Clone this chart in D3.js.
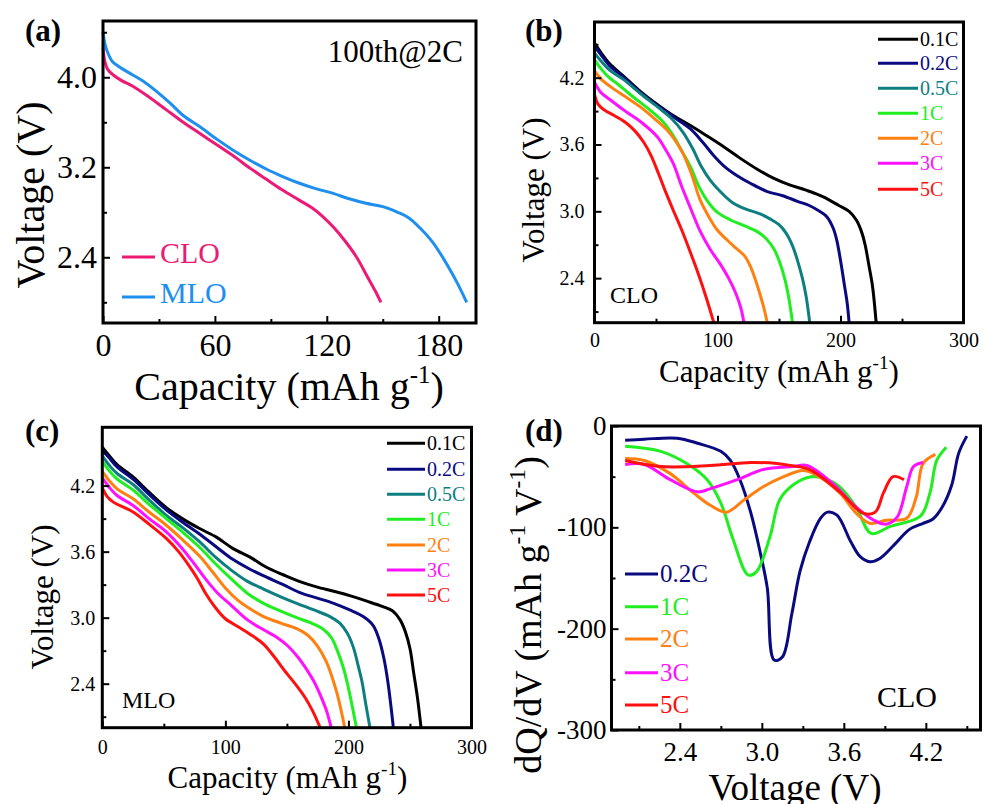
<!DOCTYPE html>
<html>
<head>
<meta charset="utf-8">
<script src="https://cdn.jsdelivr.net/npm/d3@7"></script>
<style>
  body { margin: 0; background: #fff; }
  svg text { font-family: "Liberation Serif", "Times New Roman", serif !important; }
</style>
</head>
<body>
<div id="chart"></div>
<script>
// ---- data ----
// (a) 100th cycle at 2C: [capacity mAh/g, voltage V]
const clo100 = [[0,4.27],[1,4.14],[2.5,4.07],[5.5,4.02],[10,3.97],[16,3.92],[25,3.82],[34,3.71],[43,3.60],[52,3.50],[61,3.40],[70,3.30],[79,3.19],[87,3.10],[96,3.00],[105,2.91],[112,2.84],[118,2.76],[124,2.66],[130,2.54],[136,2.40],[142,2.22],[146,2.10],[149,2.0]];
const mlo100 = [[0,4.40],[1,4.30],[2.5,4.22],[5,4.14],[8,4.10],[16,4.02],[22,3.96],[29,3.87],[36,3.77],[43,3.66],[52,3.56],[61,3.45],[70,3.35],[79,3.26],[88,3.18],[96,3.12],[105,3.06],[114,3.01],[123,2.97],[132,2.92],[141,2.88],[150,2.85],[158,2.80],[164,2.75],[170,2.66],[176,2.55],[181,2.43],[185,2.32],[190,2.17],[195,2.0]];

const rates = ["0.1C", "0.2C", "0.5C", "1C", "2C", "3C", "5C"];

// (b) CLO rate capability
const cloRate = [
  [[0,4.51],[5,4.43],[12,4.33],[24,4.21],[37,4.08],[51,3.96],[64,3.86],[78,3.77],[91,3.68],[105,3.58],[118,3.48],[132,3.38],[145,3.30],[158,3.24],[172,3.19],[186,3.13],[199,3.05],[207,3.00],[213,2.92],[217,2.82],[220,2.70],[223,2.52],[226,2.33],[229,2.0]],
  [[0,4.48],[5,4.41],[12,4.31],[24,4.20],[37,4.07],[51,3.95],[64,3.85],[78,3.74],[88,3.62],[97,3.50],[106,3.40],[116,3.32],[127,3.25],[140,3.18],[153,3.14],[165,3.09],[175,3.05],[183,3.00],[189,2.95],[194,2.85],[197,2.74],[200,2.56],[203,2.35],[205.5,2.17],[207,2.0]],
  [[0,4.42],[6,4.34],[12,4.27],[24,4.18],[37,4.06],[51,3.94],[62,3.84],[72,3.71],[80,3.56],[87,3.40],[94,3.28],[102,3.18],[112,3.08],[123,3.02],[134,2.98],[143,2.93],[150,2.88],[156,2.80],[161,2.69],[165,2.56],[169,2.40],[172,2.24],[175,2.0]],
  [[0,4.36],[6,4.27],[12,4.20],[18,4.15],[30,4.04],[45,3.91],[56,3.80],[64,3.68],[71,3.54],[78,3.40],[85,3.22],[92,3.09],[100,2.99],[111,2.92],[122,2.87],[132,2.82],[140,2.75],[146,2.66],[151,2.53],[155,2.38],[158,2.22],[161,2.0]],
  [[0,4.26],[6,4.18],[13,4.12],[25,4.03],[37,3.94],[48,3.84],[59,3.73],[66,3.63],[72,3.52],[79,3.33],[86,3.10],[93,2.95],[100,2.83],[108,2.74],[115,2.67],[122,2.60],[127,2.50],[131,2.38],[135,2.24],[138,2.12],[140.5,2.0]],
  [[0,4.16],[5,4.07],[13,4.00],[25,3.90],[38,3.80],[51,3.67],[58,3.55],[64,3.43],[71,3.22],[78,3.03],[86,2.82],[94,2.66],[102,2.53],[109,2.40],[115,2.26],[119,2.13],[121.5,2.0]],
  [[0,4.05],[3,3.96],[8,3.91],[16,3.86],[25,3.80],[33,3.72],[40,3.62],[46,3.50],[52,3.34],[58,3.17],[64,3.01],[71,2.83],[78,2.63],[85,2.42],[91,2.22],[97,2.0]]
];

// (c) MLO rate capability
const mloRate = [
  [[0,4.55],[5,4.48],[12,4.39],[25,4.28],[38,4.14],[52,4.00],[65,3.90],[79,3.81],[93,3.73],[106,3.63],[120,3.55],[133,3.46],[147,3.39],[160,3.33],[174,3.28],[188,3.24],[201,3.20],[215,3.15],[228,3.10],[236,3.06],[242,2.98],[246,2.88],[250,2.72],[253,2.50],[256,2.28],[259,2.0]],
  [[0,4.52],[5,4.46],[12,4.37],[25,4.26],[38,4.12],[52,3.98],[65,3.87],[79,3.76],[93,3.64],[106,3.53],[120,3.44],[133,3.37],[147,3.30],[160,3.23],[174,3.18],[188,3.13],[201,3.07],[212,3.01],[220,2.93],[225,2.80],[229,2.62],[232,2.42],[234.5,2.20],[236.5,2.0]],
  [[0,4.47],[6,4.38],[12,4.31],[25,4.21],[38,4.07],[52,3.93],[65,3.82],[79,3.69],[92,3.55],[105,3.43],[118,3.33],[131,3.26],[145,3.19],[158,3.13],[172,3.07],[185,3.01],[193,2.95],[199,2.86],[204,2.73],[208,2.56],[211,2.42],[214,2.22],[217.5,2.0]],
  [[0,4.42],[6,4.33],[12,4.26],[25,4.16],[38,4.03],[52,3.90],[65,3.78],[79,3.64],[92,3.49],[105,3.35],[118,3.22],[131,3.13],[145,3.06],[158,3.00],[170,2.95],[179,2.90],[186,2.82],[191,2.70],[196,2.54],[200,2.36],[203,2.20],[206.5,2.0]],
  [[0,4.33],[6,4.24],[12,4.17],[25,4.08],[38,3.96],[52,3.84],[65,3.71],[79,3.56],[90,3.41],[100,3.27],[110,3.16],[120,3.08],[131,3.01],[145,2.95],[158,2.90],[167,2.84],[175,2.74],[182,2.60],[187,2.45],[191,2.30],[194,2.16],[197,2.0]],
  [[0,4.27],[6,4.18],[12,4.11],[25,4.02],[38,3.90],[52,3.78],[64,3.64],[74,3.50],[84,3.35],[94,3.22],[105,3.11],[118,2.98],[131,2.89],[142,2.82],[151,2.74],[159,2.64],[166,2.53],[172,2.42],[177,2.30],[182,2.16],[186,2.0]],
  [[0,4.18],[4,4.10],[9,4.05],[18,4.00],[25,3.96],[38,3.85],[52,3.72],[62,3.60],[70,3.48],[77,3.36],[84,3.22],[92,3.09],[100,2.99],[110,2.92],[120,2.85],[131,2.76],[140,2.64],[148,2.52],[158,2.38],[165,2.27],[171,2.15],[177,2.0]]
];

// (d) CLO dQ/dV: [voltage V, dQ/dV]
const dqdvRates = ["0.2C", "1C", "2C", "3C", "5C"];
const dqdv = [
  [[2.00,-14],[2.14,-13],[2.38,-12],[2.53,-17],[2.70,-25],[2.77,-34],[2.84,-53],[2.92,-86],[2.99,-126],[3.04,-160],[3.09,-231],[3.15,-228],[3.22,-185],[3.28,-143],[3.35,-114],[3.43,-91],[3.48,-85],[3.55,-88],[3.65,-114],[3.72,-129],[3.79,-134],[3.86,-131],[3.97,-117],[4.08,-102],[4.18,-96],[4.25,-92],[4.32,-80],[4.39,-58],[4.44,-27],[4.50,-10]],
  [[2.00,-20],[2.26,-25],[2.45,-37],[2.60,-53],[2.70,-76],[2.79,-112],[2.90,-147],[2.96,-144],[3.06,-109],[3.13,-73],[3.23,-58],[3.36,-50],[3.46,-52],[3.57,-60],[3.69,-80],[3.80,-106],[3.94,-99],[4.16,-89],[4.23,-66],[4.28,-34],[4.35,-21]],
  [[2.00,-32],[2.14,-34],[2.33,-47],[2.50,-66],[2.62,-78],[2.74,-85],[2.87,-73],[3.01,-60],[3.16,-50],[3.30,-44],[3.38,-47],[3.57,-66],[3.69,-86],[3.79,-96],[3.91,-93],[4.06,-91],[4.13,-70],[4.18,-37],[4.27,-28]],
  [[2.00,-38],[2.14,-38],[2.33,-53],[2.53,-65],[2.62,-62],[2.82,-53],[3.01,-43],[3.23,-40],[3.33,-39],[3.52,-57],[3.69,-80],[3.82,-93],[3.91,-97],[3.99,-90],[4.06,-60],[4.11,-40],[4.18,-36]],
  [[2.00,-34],[2.26,-40],[2.62,-39],[2.92,-36],[3.11,-37],[3.21,-39],[3.35,-43],[3.57,-65],[3.74,-86],[3.83,-85],[3.89,-66],[3.96,-50],[4.04,-53]]
];

// ---- styles ----
const serif = '"Liberation Serif", "Times New Roman", serif';
const rateColors = ["#000000", "#0a0a80", "#0e7f80", "#20ee20", "#ff8010", "#ff10ff", "#ff1010"];
const dqdvColors = ["#0a0a80", "#20ee20", "#ff8010", "#ff10ff", "#ff1010"];
const cloColor = "#ec1a75";
const mloColor = "#1e8fef";

const svg = d3.select("#chart")
    .append("svg")
    .attr("width", 984)
    .attr("height", 804)
    .style("font-family", serif);

// one framed panel with inward ticks
function drawPanel(p) {
    const x = d3.scaleLinear().domain(p.xDomain).range([p.l, p.r]);
    const y = d3.scaleLinear().domain(p.yDomain).range([p.b, p.t]);
    const g = svg.append("g");

    const line = d3.line()
        .x(d => x(d[0]))
        .y(d => y(d[1]))
        .curve(d3.curveCatmullRom.alpha(0.5));

    p.series.forEach((s, i) => {
        g.append("path")
            .datum(s)
            .attr("d", line)
            .attr("fill", "none")
            .attr("stroke", p.colors[i])
            .attr("stroke-width", 3)
            .attr("stroke-linejoin", "round");
    });

    function axis(gen, tr) {
        const a = g.append("g").attr("transform", tr).call(gen);
        a.select(".domain").remove();
        a.attr("font-family", serif).attr("font-size", p.tickFont);
        a.selectAll("line").attr("stroke", "#000").attr("stroke-width", 2);
        a.selectAll("text").attr("fill", "#000");
    }
    axis(d3.axisBottom(x).tickValues(p.xMajor).tickSize(-7).tickPadding(p.padX).tickFormat(p.xFmt), `translate(0,${p.b})`);
    axis(d3.axisBottom(x).tickValues(p.xMinor).tickSize(-4).tickFormat(""), `translate(0,${p.b})`);
    axis(d3.axisLeft(y).tickValues(p.yMajor).tickSize(-7).tickPadding(p.padY).tickFormat(p.yFmt), `translate(${p.l},0)`);
    axis(d3.axisLeft(y).tickValues(p.yMinor).tickSize(-4).tickFormat(""), `translate(${p.l},0)`);

    // frame
    g.append("rect")
        .attr("x", p.l).attr("y", p.t)
        .attr("width", p.r - p.l).attr("height", p.b - p.t)
        .attr("fill", "none")
        .attr("stroke", "#000")
        .attr("stroke-width", 3);
    return { x, y, g };
}

function label(x, y, s, size, color, opts = {}) {
    return svg.append("text")
        .attr("x", x).attr("y", y)
        .attr("font-size", size)
        .attr("fill", color || "#000")
        .attr("font-weight", opts.bold ? "bold" : null)
        .attr("text-anchor", opts.anchor || "start")
        .text(s);
}

// text with "-1" superscripts; parts: [text, sup, text, sup, ...]
function supText(sel, parts, size) {
    const shift = size * 0.42;
    parts.forEach((s, i) => {
        const t = sel.append("tspan").text(s);
        if (i % 2 === 1) t.attr("font-size", size * 0.62).attr("dy", -shift);
        else if (i > 0) t.attr("dy", shift);
    });
}

function xTitle(cx, by, size, parts) {
    const t = svg.append("text").attr("x", cx).attr("y", by)
        .attr("font-size", size).attr("text-anchor", "middle");
    supText(t, parts, size);
}

function yTitle(bx, cy, size, parts) {
    const t = svg.append("text")
        .attr("transform", `translate(${bx},${cy}) rotate(-90)`)
        .attr("font-size", size).attr("text-anchor", "middle");
    supText(t, parts, size);
}

function legend(names, colors, x0, x1, tx, rows, size, off) {
    names.forEach((n, i) => {
        svg.append("line")
            .attr("x1", x0).attr("x2", x1)
            .attr("y1", rows[i]).attr("y2", rows[i])
            .attr("stroke", colors[i]).attr("stroke-width", 3);
        label(tx, rows[i] + off, n, size, colors[i]);
    });
}

const capParts = ["Capacity (mAh g", "-1", ")"];
const fmt1 = d3.format(".1f");

// (a)
drawPanel({
    l: 103, r: 476, t: 21, b: 323,
    xDomain: [0, 200], yDomain: [1.816, 4.5],
    xMajor: [0, 60, 120, 180], xMinor: [30, 90, 150],
    yMajor: [2.4, 3.2, 4.0], yMinor: [2.0, 2.8, 3.6, 4.4],
    xFmt: d3.format("d"), yFmt: fmt1,
    tickFont: 32, padX: 10, padY: 6,
    series: [clo100, mlo100], colors: [cloColor, mloColor]
});
xTitle(289, 400, 40, capParts);
yTitle(44, 195, 40, ["Voltage (V)"]);
label(25, 41, "(a)", 31, "#000", { bold: true });
label(463, 62, "100th@2C", 31, "#000", { anchor: "end" });
legend(["CLO", "MLO"], [cloColor, mloColor], 122, 155, 160, [257, 297], 30, 6);

// (b)
drawPanel({
    l: 594.5, r: 963.5, t: 22, b: 322.7,
    xDomain: [0, 300], yDomain: [2.0, 4.7],
    xMajor: [0, 100, 200, 300], xMinor: [50, 150, 250],
    yMajor: [2.4, 3.0, 3.6, 4.2], yMinor: [2.1, 2.7, 3.3, 3.9, 4.5],
    xFmt: d3.format("d"), yFmt: fmt1,
    tickFont: 20, padX: 10, padY: 10,
    series: cloRate, colors: rateColors
});
xTitle(779, 382, 31, capParts);
yTitle(544, 190, 31, ["Voltage (V)"]);
label(525, 41, "(b)", 31, "#000", { bold: true });
label(610, 303, "CLO", 24);
legend(rates, rateColors, 878, 918, 920, [39.3, 63.3, 88.3, 113.3, 138.3, 163.3, 189.3], 20, 6.5);

// (c)
drawPanel({
    l: 102.3, r: 471.5, t: 427.3, b: 727.7,
    xDomain: [0, 300], yDomain: [2.0, 4.73],
    xMajor: [0, 100, 200, 300], xMinor: [50, 150, 250],
    yMajor: [2.4, 3.0, 3.6, 4.2], yMinor: [2.1, 2.7, 3.3, 3.9, 4.5],
    xFmt: d3.format("d"), yFmt: fmt1,
    tickFont: 20, padX: 12, padY: 7,
    series: mloRate, colors: rateColors
});
xTitle(287.5, 788, 31, capParts);
yTitle(53, 597, 31, ["Voltage (V)"]);
label(25, 441, "(c)", 31, "#000", { bold: true });
label(122, 708, "MLO", 24);
legend(rates, rateColors, 387, 425, 427, [443.3, 469.3, 494.3, 519.3, 545, 570, 595], 20, 6.5);

// (d)
drawPanel({
    l: 611.5, r: 980.5, t: 426, b: 730,
    xDomain: [1.9, 4.6], yDomain: [-300, 0],
    xMajor: [2.4, 3.0, 3.6, 4.2], xMinor: [2.1, 2.7, 3.3, 3.9, 4.5],
    yMajor: [0, -100, -200, -300], yMinor: [-50, -150, -250],
    xFmt: fmt1, yFmt: d => String(d),
    tickFont: 27, padX: 12, padY: 5,
    series: dqdv, colors: dqdvColors
});
xTitle(795, 800, 37, ["Voltage (V)"]);
yTitle(541, 615, 38, ["dQ/dV (mAh g", "-1", " V", "-1", ")"]);
label(525, 441, "(d)", 31, "#000", { bold: true });
label(877, 707, "CLO", 30);
legend(dqdvRates, dqdvColors, 625, 658, 660, [574, 606.7, 639, 672.7, 705], 25, 8);
</script>
</body>
</html>
